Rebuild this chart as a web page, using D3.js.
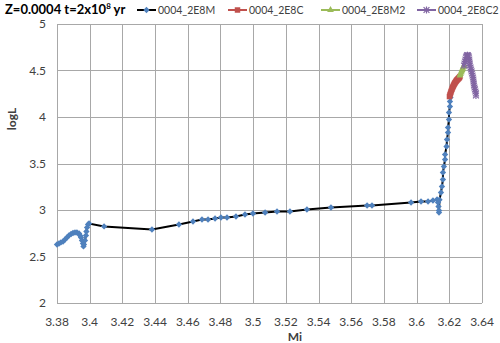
<!DOCTYPE html>
<html lang="en">
<head>
<meta charset="UTF-8">
<title>Z=0.0004 HR track</title>
<script src="https://cdn.jsdelivr.net/npm/d3@7/dist/d3.min.js"></script>
<style>
    body { margin: 0; background: #fff; }
    text { font-family: Lato, "Open Sans", sans-serif; fill: #404040; }
</style>
</head>
<body>
<script>
    // series data (Mi, logL)
    const miM = [3.3800, 3.3812, 3.3824, 3.3837, 3.3849, 3.3861, 3.3873, 3.3886, 3.3898, 3.3910, 3.3922, 3.3935,
        3.3941, 3.3947, 3.3953, 3.3959, 3.3962, 3.3965, 3.3971, 3.3977, 3.3980, 3.3984, 3.3990, 3.3996,
        3.4088, 3.4381, 3.4546, 3.4632, 3.4687, 3.4724, 3.4767, 3.4803, 3.4840, 3.4895, 3.4950, 3.4999,
        3.5073, 3.5146, 3.5225, 3.5329, 3.5476, 3.5697, 3.5727, 3.5966, 3.6027, 3.6070, 3.6100, 3.6125,
        3.6131, 3.6134, 3.6137, 3.6137, 3.6140, 3.6149, 3.6155, 3.6161, 3.6161, 3.6167, 3.6174, 3.6174,
        3.6183, 3.6186, 3.6192, 3.6192, 3.6198, 3.6198, 3.6204, 3.6204, 3.6207];
    const logLM = [2.629, 2.640, 2.651, 2.661, 2.683, 2.704, 2.726, 2.742, 2.753, 2.758, 2.758, 2.747,
        2.726, 2.704, 2.672, 2.640, 2.608, 2.629, 2.672, 2.726, 2.769, 2.812, 2.844, 2.855,
        2.823, 2.790, 2.844, 2.876, 2.898, 2.898, 2.909, 2.919, 2.919, 2.930, 2.952, 2.962,
        2.973, 2.984, 2.984, 3.005, 3.027, 3.048, 3.048, 3.081, 3.091, 3.091, 3.102, 3.113,
        3.081, 3.038, 2.995, 2.973, 3.110, 3.188, 3.253, 3.328, 3.403, 3.468, 3.543, 3.597,
        3.683, 3.758, 3.833, 3.887, 3.973, 4.048, 4.113, 4.167, 4.210];

    const miC = [3.6201, 3.6204, 3.6207, 3.6210, 3.6213, 3.6217, 3.6220, 3.6223, 3.6226, 3.6229, 3.6232,
        3.6235, 3.6238, 3.6241, 3.6244, 3.6247, 3.6250, 3.6253, 3.6256, 3.6259, 3.6262, 3.6265];
    const logLC = [4.220, 4.237, 4.253, 4.269, 4.285, 4.301, 4.317, 4.328, 4.339, 4.350, 4.360,
        4.368, 4.376, 4.384, 4.392, 4.398, 4.403, 4.409, 4.414, 4.420, 4.425, 4.435];

    const miM2 = [3.6265, 3.6268, 3.6272, 3.6275, 3.6278, 3.6281, 3.6284, 3.6287, 3.6290];
    const logLM2 = [4.446, 4.462, 4.478, 4.492, 4.505, 4.518, 4.532, 4.543, 4.554];

    const miC2 = [3.6290, 3.6293, 3.6296, 3.6299, 3.6302, 3.6305, 3.6308, 3.6311, 3.6314, 3.6317, 3.6320,
        3.6322, 3.6323, 3.6325, 3.6326, 3.6330, 3.6333, 3.6336, 3.6339, 3.6342, 3.6345, 3.6347, 3.6348,
        3.6350, 3.6351, 3.6354, 3.6357, 3.6360, 3.6363, 3.6363];
    const logLC2 = [4.554, 4.575, 4.597, 4.618, 4.640, 4.650, 4.661, 4.665, 4.661, 4.652, 4.640,
        4.618, 4.597, 4.575, 4.554, 4.532, 4.511, 4.490, 4.468, 4.446, 4.425, 4.403, 4.382,
        4.360, 4.339, 4.317, 4.296, 4.274, 4.253, 4.231];

    const seriesNames = ["0004_2E8M", "0004_2E8C", "0004_2E8M2", "0004_2E8C2"];
    const xTicks = [3.38, 3.4, 3.42, 3.44, 3.46, 3.48, 3.5, 3.52, 3.54, 3.56, 3.58, 3.6, 3.62, 3.64];
    const yTicks = [2, 2.5, 3, 3.5, 4, 4.5, 5];

    const width = 500, height = 343;
    const margin = {left: 57, right: 18, top: 24, bottom: 40};

    const svg = d3.select("body").append("svg")
        .attr("width", width)
        .attr("height", height);

    const x = d3.scaleLinear().domain([3.38, 3.64]).range([margin.left, width - margin.right]);
    const y = d3.scaleLinear().domain([2, 5]).range([height - margin.bottom, margin.top]);

    // gridlines
    svg.append("g")
        .selectAll("line.v")
        .data(xTicks)
        .enter().append("line")
        .attr("x1", d => Math.round(x(d)) + 0.5)
        .attr("x2", d => Math.round(x(d)) + 0.5)
        .attr("y1", y(5))
        .attr("y2", y(2))
        .attr("stroke", "#a8a8a8");

    svg.append("g")
        .selectAll("line.h")
        .data(yTicks)
        .enter().append("line")
        .attr("x1", x(3.38))
        .attr("x2", x(3.64))
        .attr("y1", d => Math.round(y(d)) + 0.5)
        .attr("y2", d => Math.round(y(d)) + 0.5)
        .attr("stroke", "#a8a8a8");

    // tick labels
    svg.append("g")
        .selectAll("text")
        .data(xTicks)
        .enter().append("text")
        .attr("x", d => x(d))
        .attr("y", 326)
        .attr("text-anchor", "middle")
        .style("font-size", "12px")
        .text(d => d);

    svg.append("g")
        .selectAll("text")
        .data(yTicks)
        .enter().append("text")
        .attr("x", 46)
        .attr("y", d => y(d) + 4)
        .attr("text-anchor", "end")
        .style("font-size", "12px")
        .text(d => d);

    // axis titles
    svg.append("text")
        .attr("x", 295).attr("y", 341)
        .attr("text-anchor", "middle")
        .style("font-size", "12px").style("font-weight", "bold")
        .text("Mi");

    svg.append("text")
        .attr("transform", "translate(16,119) rotate(-90)")
        .attr("text-anchor", "middle")
        .style("font-size", "12px").style("font-weight", "bold")
        .text("logL");

    // chart title
    const title = svg.append("text")
        .attr("x", 5).attr("y", 14)
        .style("font-size", "13px").style("font-weight", "bold")
        .style("fill", "#000");
    title.append("tspan").text("Z=0.0004 t=2x10");
    title.append("tspan").attr("dy", -5).style("font-size", "8px").text("8");
    title.append("tspan").attr("dy", 5).text(" yr");

    const line = d3.line().x(d => x(d[0])).y(d => y(d[1]));
    const zip = (a, b) => a.map((v, i) => [v, b[i]]);

    const series = [
        {name: seriesNames[0], pts: zip(miM, logLM), line: "#000", color: "#4f81bd", marker: "diamond"},
        {name: seriesNames[1], pts: zip(miC, logLC), line: "#c0504d", color: "#c0504d", marker: "square"},
        {name: seriesNames[2], pts: zip(miM2, logLM2), line: "#9bbb59", color: "#9bbb59", marker: "triangle"},
        {name: seriesNames[3], pts: zip(miC2, logLC2), line: "#8064a2", color: "#8064a2", marker: "star"}
    ];

    function drawMarker(g, type, color) {
        if (type === "diamond") {
            g.append("path").attr("d", d3.symbol(d3.symbolSquare, 20)())
                .attr("transform", "rotate(45)").attr("fill", color);
        } else if (type === "square") {
            g.append("path").attr("d", d3.symbol(d3.symbolSquare, 30)()).attr("fill", color);
        } else if (type === "triangle") {
            g.append("path").attr("d", d3.symbol(d3.symbolTriangle, 20)()).attr("fill", color);
        } else {
            g.append("path").attr("d", d3.symbol(d3.symbolTimes, 24)())
                .attr("stroke", color).attr("stroke-width", 1.2).attr("fill", "none");
            g.append("path").attr("d", "M0,-3.5V3.5")
                .attr("stroke", color).attr("stroke-width", 1.2);
        }
    }

    series.forEach(s => {
        svg.append("path")
            .datum(s.pts)
            .attr("d", line)
            .attr("fill", "none")
            .attr("stroke", s.line)
            .attr("stroke-width", 2);
        svg.append("g").selectAll("g")
            .data(s.pts)
            .enter().append("g")
            .attr("transform", d => `translate(${x(d[0])},${y(d[1])})`)
            .each(function () { drawMarker(d3.select(this), s.marker, s.color); });
    });

    // legend
    const legendX = [137, 228, 321, 417];
    series.forEach((s, i) => {
        const g = svg.append("g").attr("transform", `translate(${legendX[i]},10)`);
        g.append("line").attr("x1", 0).attr("x2", 19).attr("y1", 0).attr("y2", 0)
            .attr("stroke", s.line).attr("stroke-width", 2);
        drawMarker(g.append("g").attr("transform", "translate(9.5,0)"), s.marker, s.color);
        g.append("text").attr("x", 21).attr("y", 4)
            .style("font-size", "10.5px")
            .text(s.name);
    });
</script>
</body>
</html>
